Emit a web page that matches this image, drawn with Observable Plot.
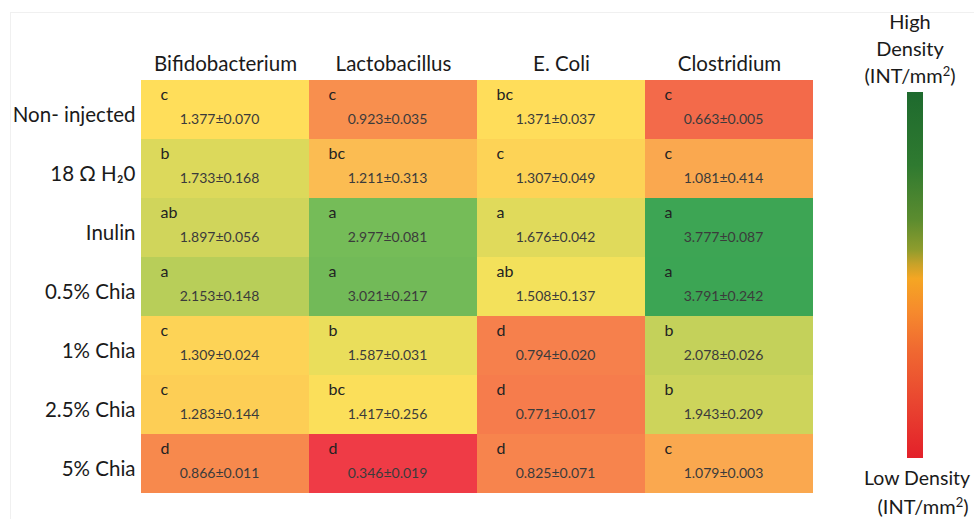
<!DOCTYPE html>
<html>
<head>
<meta charset="utf-8">
<script src="https://cdn.jsdelivr.net/npm/d3@7"></script>
<script src="https://cdn.jsdelivr.net/npm/@observablehq/plot@0.6"></script>
<style>
  html, body { margin: 0; padding: 0; background: #fff; overflow: hidden; }
  #wrap { position: relative; width: 974px; height: 519px; overflow: hidden; font-family: Lato, "Open Sans", sans-serif; color: #1a1a1a; }
  #frame { position: absolute; left: 10px; top: 12px; width: 980px; height: 520px; border-left: 1px solid #f0f0f0; border-top: 1px solid #f0f0f0; }
  #chart { position: absolute; left: 0; top: 0; }
  .lg { position: absolute; font-size: 20px; line-height: 1; white-space: nowrap; text-align: center; }
  #bar { position: absolute; left: 907px; top: 92px; width: 16px; height: 366px; }
</style>
</head>
<body>
<div id="wrap">
  <div id="frame"></div>
  <div id="chart"></div>
  <div class="lg" style="left:850px; width:120px; top:11px;">High</div>
  <div class="lg" style="left:850px; width:120px; top:38px;">Density</div>
  <div class="lg" style="left:850px; width:120px; top:65px;">(INT/mm<sup style="font-size:13px; vertical-align:7px; line-height:0">2</sup>)</div>
  <div id="bar"></div>
  <div class="lg" style="left:864px; top:468px; text-align:left; font-size:19.5px;">Low Density</div>
  <div class="lg" style="left:863px; width:120px; top:496px;">(INT/mm<sup style="font-size:13px; vertical-align:7px; line-height:0">2</sup>)</div>
</div>
<script>
const groups = ["Non- injected", "18 Ω H₂0", "Inulin", "0.5% Chia", "1% Chia", "2.5% Chia", "5% Chia"];
const bacteria = ["Bifidobacterium", "Lactobacillus", "E. Coli", "Clostridium"];

const bifidoMean = [1.377, 1.733, 1.897, 2.153, 1.309, 1.283, 0.866];
const bifidoSd   = ["0.070", "0.168", "0.056", "0.148", "0.024", "0.144", "0.011"];
const bifidoSig  = ["c", "b", "ab", "a", "c", "c", "d"];

const lactoMean = [0.923, 1.211, 2.977, 3.021, 1.587, 1.417, 0.346];
const lactoSd   = ["0.035", "0.313", "0.081", "0.217", "0.031", "0.256", "0.019"];
const lactoSig  = ["c", "bc", "a", "a", "b", "bc", "d"];

const ecoliMean = [1.371, 1.307, 1.676, 1.508, 0.794, 0.771, 0.825];
const ecoliSd   = ["0.037", "0.049", "0.042", "0.137", "0.020", "0.017", "0.071"];
const ecoliSig  = ["bc", "c", "a", "ab", "d", "d", "d"];

const clostMean = [0.663, 1.081, 3.777, 3.791, 2.078, 1.943, 1.079];
const clostSd   = ["0.005", "0.414", "0.087", "0.242", "0.026", "0.209", "0.003"];
const clostSig  = ["c", "c", "a", "a", "b", "b", "c"];

const series = [
  [bifidoMean, bifidoSd, bifidoSig],
  [lactoMean, lactoSd, lactoSig],
  [ecoliMean, ecoliSd, ecoliSig],
  [clostMean, clostSd, clostSig]
];

const table = [];
bacteria.forEach((b, j) => {
  const [m, s, g] = series[j];
  groups.forEach((grp, i) => {
    table.push({bacterium: b, group: grp, mean: m[i], label: m[i].toFixed(3) + "±" + s[i], sig: g[i]});
  });
});

// colour ramp (style)
const colorDomain = [0.346, 0.663, 0.78, 0.87, 0.923, 1.08, 1.211, 1.30, 1.377, 1.5, 1.65, 1.9, 2.08, 2.153, 3.0, 3.79];
const colorRange  = ["#EF3B46", "#F36A4A", "#F67E4C", "#F7894D", "#F88F4E", "#FAA84F", "#FBBC52", "#FDD256", "#FFDE5A", "#F4E15B", "#E2DB5B", "#D0D55B", "#C4D15A", "#B8CE59", "#73BB58", "#3CA554"];

const chart = Plot.plot({
  width: 974,
  height: 519,
  marginLeft: 140,
  marginRight: 161,
  marginTop: 78,
  marginBottom: 25,
  style: {fontFamily: "Lato, 'Open Sans', sans-serif", color: "#1a1a1a", background: "transparent"},
  x: {domain: bacteria, padding: 0, axis: null, label: null},
  y: {domain: groups, padding: 0, axis: null, label: null},
  color: {type: "linear", domain: colorDomain, range: colorRange, interpolate: "rgb"},
  marks: [
    Plot.cell(table, {x: "bacterium", y: "group", fill: "mean", inset: 0}),
    Plot.axisX({anchor: "top", tickSize: 0, tickPadding: 8, fontSize: 20.5, fill: "#1a1a1a", label: null}),
    Plot.axisY({anchor: "left", tickSize: 0, tickPadding: 5, fontSize: 20.5, dy: 5, fill: "#1a1a1a", label: null}),
    Plot.text(table, {x: "bacterium", y: "group", text: "sig", textAnchor: "start", dx: -65, dy: -15, fontSize: 16, fill: "#222"}),
    Plot.text(table, {x: "bacterium", y: "group", text: "label", textAnchor: "middle", dx: -6, dy: 10, fontSize: 14, fill: "#3b3b3b"})
  ]
});
document.getElementById("chart").appendChild(chart);

document.getElementById("bar").style.background =
  "linear-gradient(to bottom, #1E6A2E 0%, #2F7A30 20%, #5C8C2F 35%, #8E9C2D 43%, #C7A229 47%, #F5A623 51%, #F68A2D 60%, #F06A31 70%, #E94530 85%, #E3202A 100%)";
</script>
</body>
</html>
